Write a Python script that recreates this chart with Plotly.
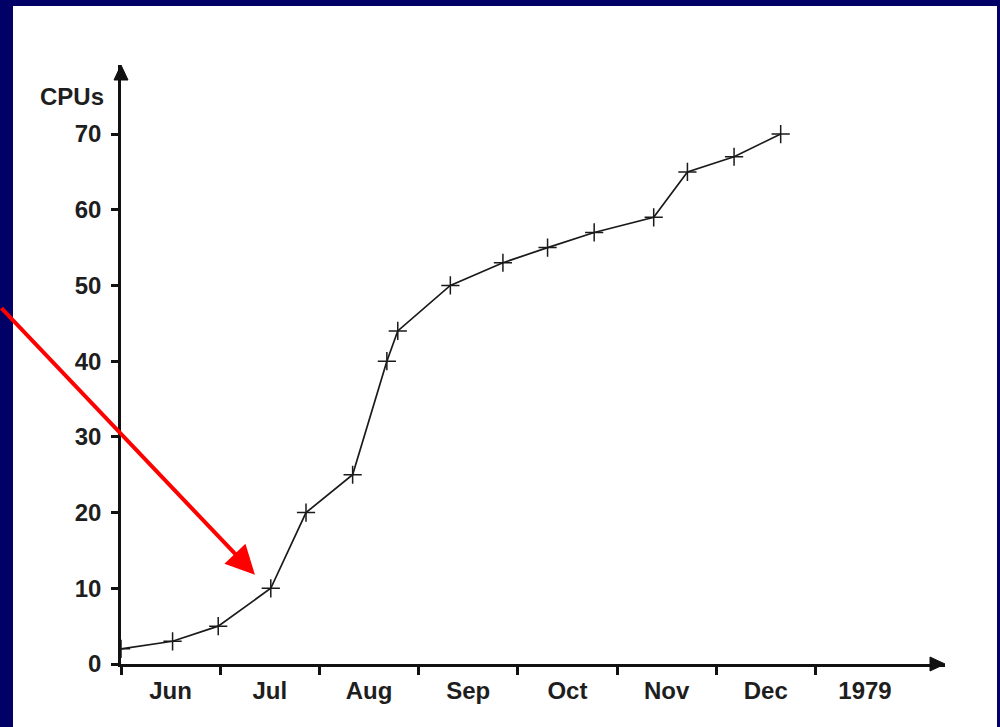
import plotly.graph_objects as go

# ---- data ----
# x: months elapsed since the start of June (1978)
months = [0, 0.52, 0.98, 1.51, 1.865, 2.335, 2.68, 2.79, 3.32, 3.85, 4.30, 4.77, 5.37, 5.71, 6.18, 6.65]
cpus = [2, 3, 5, 10, 20, 25, 40, 44, 50, 53, 55, 57, 59, 65, 67, 70]

month_labels = ["Jun", "Jul", "Aug", "Sep", "Oct", "Nov", "Dec", "1979"]
label_pos = [0.5, 1.5, 2.5, 3.5, 4.5, 5.5, 6.5, 7.5]
boundary_ticks = [0, 1, 2, 3, 4, 5, 6, 7]
y_ticks = [0, 10, 20, 30, 40, 50, 60, 70]

# pointer arrow target (data coords)
arrow_x, arrow_y = 1.35, 11.8

# ---- layout geometry ----
W, H = 1000, 727
ML, MR, MT, MB = 121, 55, 65, 63
plot_w = W - ML - MR
plot_h = H - MT - MB
X_MAX = plot_w / 99.2
Y_MAX = plot_h / 7.571

FONT = "Liberation Sans"
TXT = "#1e1e1e"
NAVY = "#000066"

fig = go.Figure()
fig.add_trace(go.Scatter(
    x=months, y=cpus, mode="lines+markers",
    line=dict(color="#1a1a1a", width=1.7),
    marker=dict(symbol="cross-thin", size=13, line=dict(color="#1a1a1a", width=1.5)),
    showlegend=False, hoverinfo="skip",
))

shapes = [
    # white slide panel
    dict(type="rect", xref="paper", yref="paper",
         x0=(13 - ML) / plot_w, x1=(997 - ML) / plot_w,
         y0=-(H + 20 - (H - MB)) / plot_h, y1=((H - MB) - 6) / plot_h,
         fillcolor="white", line=dict(width=0), layer="below"),
    # y-axis arrowhead
    dict(type="path", xref="paper", yref="paper", xsizemode="pixel", ysizemode="pixel",
         xanchor=0, yanchor=1, path="M -7,-15 L 0,0 L 7,-15 Z",
         fillcolor="#111", line=dict(color="#111", width=1), layer="above"),
    # x-axis arrowhead
    dict(type="path", xref="paper", yref="paper", xsizemode="pixel", ysizemode="pixel",
         xanchor=1, yanchor=0, path="M -15,7 L 0,0 L -15,-7 Z",
         fillcolor="#111", line=dict(color="#111", width=1), layer="above"),
]

annotations = [
    dict(text="<b>CPUs</b>", xref="paper", yref="y", x=0, y=74.9, xanchor="right",
         xshift=-15, yanchor="middle", showarrow=False,
         font=dict(family=FONT, size=24, color=TXT)),
    dict(text="", x=arrow_x, y=arrow_y, xref="x", yref="y", showarrow=True,
         axref="pixel", ayref="pixel", ax=-arrow_x * 99.2 - ML, ay=-(575 - 307),
         arrowhead=2, arrowsize=1.45, arrowwidth=4, arrowcolor="#ff0000", standoff=0),
]

fig.update_layout(
    width=W, height=H,
    margin=dict(l=ML, r=MR, t=MT, b=MB, autoexpand=False),
    paper_bgcolor=NAVY, plot_bgcolor="white",
    shapes=shapes, annotations=annotations,
    xaxis=dict(
        range=[0, X_MAX], showgrid=False, zeroline=False,
        showline=True, linecolor="#111", linewidth=2.5,
        tickmode="array", tickvals=label_pos, ticktext=month_labels,
        ticks="", ticklabelstandoff=3,
        tickfont=dict(family=FONT, size=24, color=TXT, weight="bold"),
        minor=dict(tickmode="array", tickvals=boundary_ticks, ticks="outside",
                   ticklen=8, tickwidth=2.5, tickcolor="#111", showgrid=False),
        fixedrange=True,
    ),
    yaxis=dict(
        range=[0, Y_MAX], showgrid=False, zeroline=False,
        showline=True, linecolor="#111", linewidth=2.5,
        tickmode="array", tickvals=y_ticks, ticks="outside",
        ticklen=7, tickwidth=2.5, tickcolor="#111", ticklabelstandoff=5,
        tickfont=dict(family=FONT, size=24, color=TXT, weight="bold"),
        fixedrange=True,
    ),
)

fig.write_html(
    "out.html",
    config={"displayModeBar": False},
    post_script="document.body.style.margin='0';document.body.style.overflow='hidden';",
)
